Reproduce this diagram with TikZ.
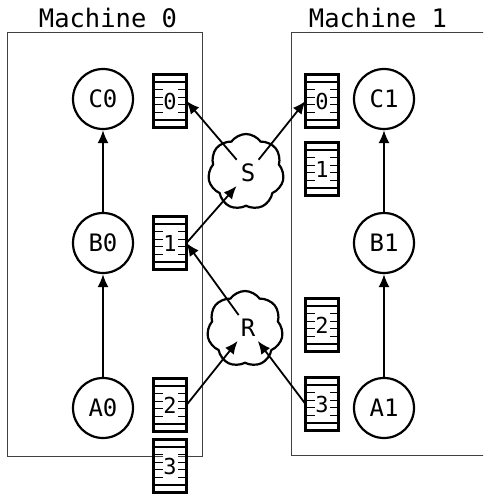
\documentclass[tikz,border=0pt]{standalone}
\usepackage{fontspec}
\setmainfont{DejaVu Sans Mono}
\usetikzlibrary{arrows.meta,shapes.symbols,calc}

\newcommand\bufbox[4]{%
  \node[buf] (#1) at (#2,#3) {};
  \foreach \k in {1,...,6}
    \draw[stripe] ($(#1.north west)!\k/7!(#1.south west)$) -- ($(#1.north east)!\k/7!(#1.south east)$);
  \node[buf,fill=none] at (#2,#3) {};
  \node[buflabel] (#1l) at (#2,#3) {#4};
}

\begin{document}
\begin{tikzpicture}[x=1pt,y=-1pt,
  machine/.style={draw=black!75, line width=1pt},
  title/.style={font=\fontsize{25.5}{30}\selectfont, anchor=base},
  proc/.style={circle, draw, line width=2.2pt, minimum size=60pt, inner sep=0pt, font=\fontsize{24}{28}\selectfont},
  buf/.style={draw, line width=3pt, minimum width=33pt, minimum height=53pt, inner sep=0pt, outer sep=0pt},
  stripe/.style={line width=1.3pt},
  buflabel/.style={fill=white, inner sep=0pt, minimum width=15pt, minimum height=28pt, font=\fontsize{22}{26}\selectfont},
  cloudnode/.style={cloud, draw, line width=2.2pt, cloud puffs=7, cloud puff arc=110, aspect=1, minimum width=76pt, minimum height=76pt},
  cloudlabel/.style={inner sep=4pt, font=\fontsize{24}{28}\selectfont},
  arr/.style={line width=1.8pt, -{Latex[length=13pt,width=11pt]}},
]
\useasboundingbox (0,0) rectangle (483,496);
\clip (0,0) rectangle (483,496);

% machines
\draw[machine] (7,32) rectangle (202,456);
\draw[machine] (291,32) rectangle (500,455);
\node[title] (t0) at (108,27) {Machine 0};
\node[title] (t1) at (378,27) {Machine 1};

% processes
\node[proc] (C0) at (103,99) {C0};
\node[proc] (B0) at (103,243) {B0};
\node[proc] (A0) at (103,408) {A0};
\node[proc] (C1) at (384,99) {C1};
\node[proc] (B1) at (384,243) {B1};
\node[proc] (A1) at (384,408) {A1};

\draw[arr] (A0) -- (B0);
\draw[arr] (B0) -- (C0);
\draw[arr] (A1) -- (B1);
\draw[arr] (B1) -- (C1);

% buffers
\bufbox{L0}{170}{101}{0}
\bufbox{L1}{170}{243}{1}
\bufbox{L2}{170}{405}{2}
\bufbox{L3}{170}{466}{3}
\bufbox{R0}{322}{101}{0}
\bufbox{R1}{322}{169}{1}
\bufbox{R2}{322}{325}{2}
\bufbox{R3}{322}{404}{3}

% networks
\node[cloudnode] (Sc) at (246,172) {};
\node[cloudlabel] (S) at (248,173) {S};
\node[cloudnode] (Rc) at (245,329) {};
\node[cloudlabel] (R) at (248,328) {R};

\draw[arr] (S) -- (L0.east);
\draw[arr] (S) -- (R0.west);
\draw[arr] (L1.east) -- (S);
\draw[arr] (R) -- (L1.east);
\draw[arr] (L2.east) -- (R);
\draw[arr] (R3.west) -- (R);
\end{tikzpicture}
\end{document}
